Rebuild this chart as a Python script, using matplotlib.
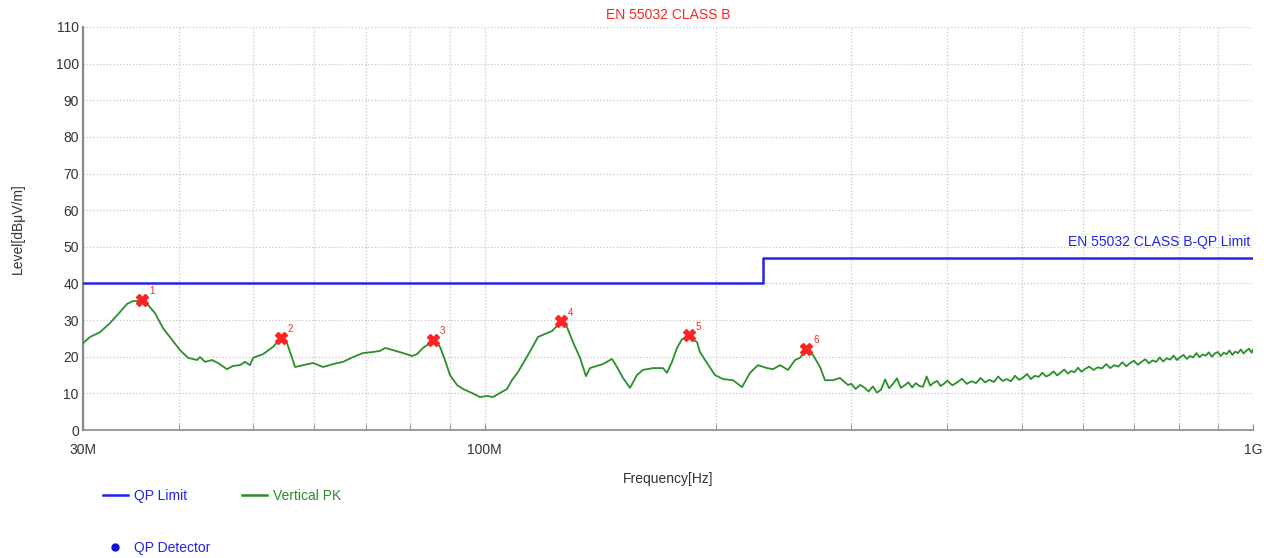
import numpy as np
import matplotlib
matplotlib.use("Agg")
import matplotlib.pyplot as plt
from matplotlib.lines import Line2D
from matplotlib.ticker import FixedLocator, NullFormatter

plt.rcParams['font.family'] = ['Liberation Sans', 'DejaVu Sans']

# limit line (MHz, dBuV/m)
limit_freq = [30, 230, 230, 1000]
limit_level = [40, 40, 47, 47]

pk_freq = [30.00, 30.64, 31.57, 32.53, 33.52, 34.23, 34.85, 35.69, 36.46, 37.23,
           38.13, 39.17, 40.12, 41.10, 42.22, 42.60, 43.25, 44.16, 44.96, 46.19,
           47.03, 48.03, 48.75, 49.49, 49.94, 51.46, 53.02, 54.15, 55.29, 56.13,
           56.64, 58.01, 59.78, 61.60, 63.47, 65.40, 67.39, 69.44, 71.55, 73.07,
           74.17, 75.97, 78.28, 80.42, 81.63, 83.11, 84.87, 85.89, 87.45, 88.77,
           90.11, 92.02, 93.69, 96.26, 98.59, 100.68, 102.51, 104.68, 106.90, 108.51,
           110.49, 112.83, 115.22, 117.31, 119.80, 122.33, 124.18, 126.06, 127.96, 130.28,
           133.05, 135.46, 137.09, 140.00, 142.54, 146.44, 148.65, 151.35, 154.56, 157.83,
           160.70, 165.59, 170.62, 172.68, 175.29, 177.94, 180.62, 184.45, 188.92, 190.62,
           194.66, 199.40, 204.23, 210.45, 216.21, 221.45, 226.82, 233.03, 237.26, 242.29,
           248.16, 253.43, 257.25, 261.92, 267.47, 273.15, 277.27, 283.99, 290.00, 297.05,
           300, 304, 308, 312, 316, 320, 324, 328, 332, 336,
           340, 344, 348, 352, 356, 360, 364, 368, 372, 376,
           380, 384, 388, 392, 396, 400, 406, 412, 418, 424,
           430, 436, 442, 448, 454, 460, 466, 472, 478, 484,
           490, 496, 502, 508, 514, 520, 526, 532, 538, 544,
           550, 556, 562, 568, 574, 580, 586, 592, 598, 604,
           612, 620, 628, 636, 644, 652, 660, 668, 676, 684,
           692, 700, 708, 716, 724, 732, 740, 748, 756, 764,
           772, 780, 788, 796, 804, 812, 820, 828, 836, 844,
           852, 860, 868, 876, 884, 892, 900, 908, 916, 924,
           932, 940, 948, 956, 964, 972, 980, 988, 996, 1000]
pk_level = [23.7, 25.4, 26.7, 29.2, 32.2, 34.4, 35.2, 35.2, 34.1, 31.9,
            27.8, 24.6, 21.8, 19.7, 19.1, 19.9, 18.6, 19.1, 18.3, 16.6,
            17.5, 17.7, 18.6, 17.7, 19.7, 20.7, 22.7, 24.8, 23.7, 19.7,
            17.2, 17.7, 18.3, 17.2, 18.0, 18.6, 19.9, 21.0, 21.3, 21.6,
            22.4, 21.8, 21.0, 20.2, 20.7, 22.4, 23.7, 24.8, 22.7, 19.1,
            15.0, 12.3, 11.2, 10.1, 9.0, 9.3, 9.0, 10.1, 11.2, 13.6,
            15.8, 19.1, 22.4, 25.4, 26.2, 27.0, 28.4, 29.5, 28.1, 24.0,
            19.7, 14.7, 16.9, 17.5, 18.0, 19.4, 17.2, 14.2, 11.5, 15.0,
            16.4, 16.9, 16.9, 15.6, 18.6, 22.4, 24.8, 25.4, 24.0, 21.3,
            18.3, 15.0, 13.9, 13.6, 11.7, 15.6, 17.7, 16.9, 16.6, 17.7,
            16.4, 19.1, 19.7, 21.8, 20.5, 17.2, 13.6, 13.6, 14.2, 12.3,
            12.6, 11.2, 12.3, 11.6, 10.5, 11.9, 10.2, 11.0, 13.8, 11.4,
            12.6, 14.1, 11.5, 12.2, 13.0, 11.6, 12.8, 12.0, 11.8, 14.6,
            12.1, 12.9, 13.4, 12.0, 12.6, 13.5, 12.2, 13.0, 14.0, 12.6,
            13.3, 12.8, 14.2, 13.0, 13.7, 13.1, 14.6, 13.4, 13.9, 13.3,
            14.8, 13.7, 14.3, 15.3, 13.9, 14.8, 14.5, 15.6, 14.6, 15.1,
            16.0, 14.9, 15.7, 16.5, 15.4, 16.1, 15.8, 17.0, 15.9, 16.6,
            17.3, 16.4, 17.1, 16.8, 18.0, 16.9, 17.7, 17.3, 18.5, 17.4,
            18.3, 18.9, 17.8, 18.6, 19.3, 18.2, 19.0, 18.6, 19.8, 18.7,
            19.6, 19.2, 20.3, 19.1, 19.9, 20.5, 19.4, 20.2, 19.8, 21.0,
            19.9, 20.6, 20.3, 21.2, 20.0, 20.9, 21.3, 20.2, 21.1, 20.7,
            21.7, 20.5, 21.4, 21.0, 22.0, 20.9, 21.6, 22.2, 21.1, 21.9]

# peak markers
mark_freq = [35.8, 54.3, 85.6, 125.8, 184.5, 262.0]
mark_level = [35.5, 25.1, 24.6, 29.7, 25.9, 22.1]
mark_ids = ['1', '2', '3', '4', '5', '6']

blue = '#2323f0'
green = '#2a8f2a'
red = '#ff2424'
txt = '#333333'

fig = plt.figure(figsize=(12.74, 5.58), dpi=100)
ax = fig.add_axes([83/1274, 1-430/558, (1253-83)/1274, (430-27)/558])

ax.plot(np.array(limit_freq)*1e6, limit_level, color=blue, lw=1.8, zorder=3)
ax.plot(np.array(pk_freq)*1e6, pk_level, color=green, lw=1.3, zorder=4)
ax.plot(np.array(mark_freq)*1e6, mark_level, ls='none', marker='X', ms=8,
        color=red, mec=red, zorder=5)
for f, l, s in zip(mark_freq, mark_level, mark_ids):
    ax.annotate(s, (f*1e6, l), xytext=(5, 4), textcoords='offset points',
                color=red, fontsize=7)

ax.set_xscale('log')
ax.set_xlim(30e6, 1e9)
ax.set_ylim(0, 110)
ax.xaxis.set_major_locator(FixedLocator([30e6, 100e6, 1e9]))
ax.set_xticklabels(['30M', '100M', '1G'])
ax.xaxis.set_minor_locator(FixedLocator([40e6, 50e6, 60e6, 70e6, 80e6, 90e6,
                                         200e6, 300e6, 400e6, 500e6, 600e6,
                                         700e6, 800e6, 900e6]))
ax.xaxis.set_minor_formatter(NullFormatter())
ax.set_yticks(range(0, 111, 10))

ax.grid(which='both', color='#c8c8c8', ls=':', lw=0.9)
ax.tick_params(axis='x', which='both', direction='in', length=4, color='#888888',
               labelsize=10, labelcolor=txt, pad=9)
ax.tick_params(axis='y', length=0, labelsize=10, labelcolor=txt, pad=3)
for s in ['top', 'right']:
    ax.spines[s].set_visible(False)
ax.spines['left'].set_color('#8a8a8a')
ax.spines['left'].set_linewidth(1.6)
ax.spines['bottom'].set_color('#8a8a8a')
ax.spines['bottom'].set_linewidth(1.2)

ax.text(0.5, 1.03, 'EN 55032 CLASS B', transform=ax.transAxes, ha='center',
        va='center', color=red, fontsize=10)
ax.text(0.998, 51.3, 'EN 55032 CLASS B-QP Limit', transform=ax.get_yaxis_transform(),
        ha='right', va='center', color=blue, fontsize=10)

ax.set_ylabel('Level[dBμV/m]', fontsize=10, color=txt)
ax.yaxis.set_label_coords(-0.05, 0.5)
ax.set_xlabel('Frequency[Hz]', fontsize=10, color=txt)
ax.xaxis.set_label_coords(0.5, -0.105)

h1 = Line2D([], [], color=blue, lw=1.8)
h2 = Line2D([], [], color=green, lw=1.8)
leg1 = fig.legend([h1, h2], ['QP Limit', 'Vertical PK'], ncol=2, loc='upper left',
                  bbox_to_anchor=(96/1274, 1-482/558), frameon=False, borderpad=0,
                  handlelength=1.8, handletextpad=0.4, columnspacing=4.0, fontsize=10)
leg1.get_texts()[0].set_color(blue)
leg1.get_texts()[1].set_color(green)
h3 = Line2D([], [], color='#1010e0', marker='o', ls='none', ms=5)
leg2 = fig.legend([h3], ['QP Detector'], loc='upper left',
                  bbox_to_anchor=(96/1274, 1-534/558), frameon=False, borderpad=0,
                  handlelength=1.8, handletextpad=0.4, fontsize=10)
leg2.get_texts()[0].set_color(blue)

fig.savefig('out.png', dpi=100)
